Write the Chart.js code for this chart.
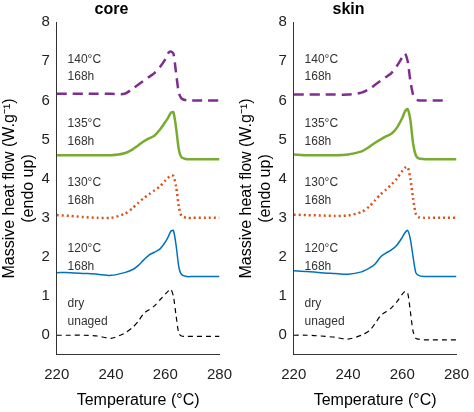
<!DOCTYPE html>
<html>
<head>
<meta charset="utf-8">
<script src="https://cdn.jsdelivr.net/npm/chart.js@4/dist/chart.umd.min.js"></script>
<style>
  body { margin: 0; background: #fff; }
  .wrap { display: flex; width: 474px; height: 412px; }
  .cell { width: 237px; height: 412px; position: relative; }
</style>
</head>
<body>
<div class="wrap">
  <div class="cell"><canvas id="core"></canvas></div>
  <div class="cell"><canvas id="skin"></canvas></div>
</div>
<script>
const temps = [220, 225, 230, 235, 240, 245, 248, 250, 252, 254, 256, 258, 260, 261, 262, 263, 264, 265, 266, 268, 270, 275, 280];
const yTicks = [0, 1, 2, 3, 4, 5, 6, 7, 8];
const xTicks = [220, 240, 260, 280];

// core
const coreDry = [0, 0, 0, -0.02, -0.08, 0.05, 0.2, 0.35, 0.55, 0.65, 0.75, 0.9, 1.05, 1.12, 1.18, 1.0, 0.5, 0.05, -0.02, -0.03, -0.03, -0.03, -0.03];
const core120 = [1.6, 1.6, 1.58, 1.56, 1.53, 1.6, 1.68, 1.78, 1.92, 2.05, 2.12, 2.2, 2.38, 2.5, 2.65, 2.68, 2.3, 1.75, 1.55, 1.5, 1.5, 1.5, 1.5];
const core130 = [3.07, 3.05, 3.02, 3.0, 3.0, 3.1, 3.25, 3.38, 3.5, 3.6, 3.7, 3.8, 3.95, 4.02, 4.08, 4.07, 3.8, 3.3, 3.05, 3.0, 3.0, 3.0, 3.0];
const core135 = [4.6, 4.6, 4.6, 4.6, 4.6, 4.65, 4.75, 4.85, 4.95, 5.03, 5.1, 5.25, 5.45, 5.55, 5.68, 5.7, 5.3, 4.75, 4.55, 4.5, 4.5, 4.5, 4.5];
const core140 = [6.17, 6.17, 6.17, 6.17, 6.17, 6.17, 6.3, 6.4, 6.5, 6.6, 6.7, 6.85, 7.05, 7.2, 7.25, 7.2, 6.7, 6.2, 6.05, 6.0, 6.0, 6.0, 6.0];

// skin
const skinDry = [0, 0, -0.02, -0.05, -0.1, 0.0, 0.12, 0.3, 0.5, 0.6, 0.7, 0.85, 1.05, 1.12, 1.08, 0.6, 0.1, -0.08, -0.1, -0.12, -0.12, -0.12, -0.12];
const skin120 = [1.65, 1.63, 1.6, 1.58, 1.56, 1.62, 1.72, 1.82, 2.0, 2.1, 2.18, 2.3, 2.5, 2.62, 2.68, 2.45, 2.0, 1.6, 1.53, 1.5, 1.5, 1.5, 1.5];
const skin130 = [3.08, 3.07, 3.06, 3.05, 3.06, 3.15, 3.3, 3.45, 3.6, 3.72, 3.85, 4.0, 4.2, 4.28, 4.3, 4.0, 3.5, 3.1, 3.02, 3.0, 3.0, 3.0, 3.0];
const skin135 = [4.62, 4.6, 4.6, 4.6, 4.62, 4.7, 4.82, 4.92, 5.0, 5.08, 5.15, 5.3, 5.55, 5.72, 5.78, 5.5, 4.9, 4.6, 4.52, 4.5, 4.5, 4.5, 4.5];
const skin140 = [6.15, 6.15, 6.15, 6.15, 6.15, 6.2, 6.3, 6.4, 6.5, 6.6, 6.7, 6.88, 7.1, 7.2, 7.0, 6.5, 6.15, 6.05, 6.0, 6.0, 6.0, 6.0, null];

const labels = [["140°C", "168h", 7.05], ["135°C", "168h", 5.4], ["130°C", "168h", 3.9], ["120°C", "168h", 2.2], ["dry", "unaged", 0.8]];

const annot = {
  id: "annot",
  afterDatasetsDraw(chart) {
    const { ctx, scales: { x, y } } = chart;
    ctx.save();
    ctx.fillStyle = "#333";
    ctx.font = "12px Arial, 'Liberation Sans'";
    ctx.textBaseline = "middle";
    for (const [a, b, v] of labels) {
      ctx.fillText(a, x.getPixelForValue(224), y.getPixelForValue(v));
      ctx.fillText(b, x.getPixelForValue(224), y.getPixelForValue(v - 0.45));
    }
    ctx.restore();
  }
};

function makeChart(id, title, d) {
  const pts = arr => temps.map((t, i) => ({ x: t, y: arr[i] }));
  const ds = (arr, color, width, dash) => ({
    data: pts(arr), borderColor: color, borderWidth: width, borderDash: dash,
    pointRadius: 0, tension: 0.25, fill: false, spanGaps: false
  });
  new Chart(document.getElementById(id), {
    type: "line",
    data: {
      datasets: [
        ds(d[0], "#000", 1.2, [5, 4]),
        ds(d[1], "#0072bd", 1.5, []),
        ds(d[2], "#d95319", 2.5, [2, 3]),
        ds(d[3], "#77ac30", 2.5, []),
        ds(d[4], "#7e2f8e", 2.5, [10, 6])
      ]
    },
    options: {
      responsive: false, animation: false,
      layout: { padding: { right: 14, top: 0, bottom: 2 } },
      plugins: {
        legend: { display: false },
        tooltip: { enabled: false },
        title: { display: true, text: title, color: "#000", font: { size: 16, weight: "bold", family: "Arial, 'Liberation Sans'" }, padding: { top: 0, bottom: 3 } }
      },
      scales: {
        x: {
          type: "linear", min: 220, max: 280,
          grid: { display: false, drawTicks: true, tickLength: 6 },
          border: { color: "#333" },
          afterBuildTicks: ax => { ax.ticks = xTicks.map(v => ({ value: v })); },
          ticks: { color: "#222", padding: 5, font: { size: 15, family: "Arial, 'Liberation Sans'" } },
          title: { display: true, text: "Temperature (°C)", color: "#000", font: { size: 16, family: "Arial, 'Liberation Sans'" }, padding: { top: 2, bottom: 0 } }
        },
        y: {
          min: -0.5, max: 8,
          grid: { display: false, tickLength: 4 },
          border: { color: "#333" },
          afterBuildTicks: ax => { ax.ticks = yTicks.map(v => ({ value: v })); },
          ticks: { color: "#222", font: { size: 15, family: "Arial, 'Liberation Sans'" } },
          title: { display: true, text: ["Massive heat flow (W.g⁻¹)", "(endo up)"], color: "#000", font: { size: 16, family: "Arial, 'Liberation Sans'" }, padding: 0 }
        }
      }
    },
    plugins: [annot]
  });
}

for (const c of ["core", "skin"]) {
  const el = document.getElementById(c);
  el.width = 237; el.height = 412;
}
makeChart("core", "core", [coreDry, core120, core130, core135, core140]);
makeChart("skin", "skin", [skinDry, skin120, skin130, skin135, skin140]);
</script>
</body>
</html>
